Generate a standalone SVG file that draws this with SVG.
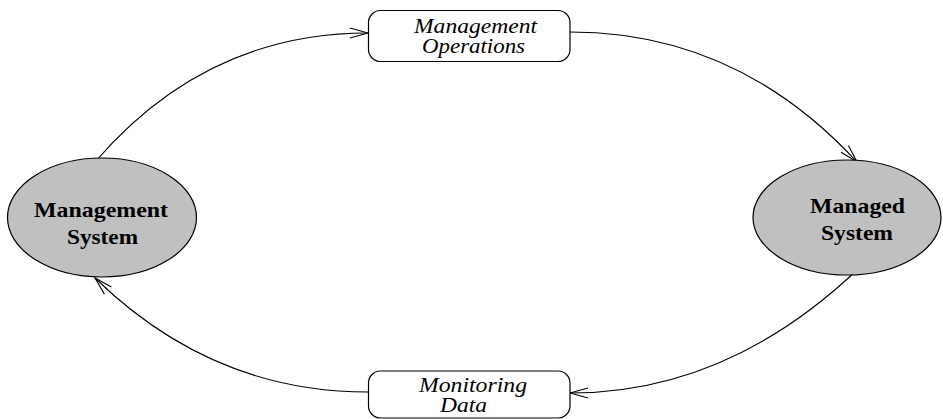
<svg xmlns="http://www.w3.org/2000/svg" width="943" height="419" viewBox="0 0 943 419">
  <style>
    .ell { fill: #c0c0c0; stroke: #000; stroke-width: 1.2; }
    .box { fill: #fff; stroke: #000; stroke-width: 1.2; }
    .bold { font-family: 'Liberation Serif', 'Times New Roman', serif; font-weight: bold; font-size: 22px; fill: #000; }
    .ital { font-family: 'Liberation Serif', 'Times New Roman', serif; font-style: italic; font-size: 20px; fill: #000; }
    .conn { fill: none; stroke: #000; stroke-width: 1.1; }
  </style>
  <defs>
    <marker id="arrow" markerUnits="userSpaceOnUse" markerWidth="20" markerHeight="12" refX="18" refY="5" orient="auto" viewBox="-1 -1 20 12">
      <path d="M0,0 L18,5 L0,10" fill="none" stroke="#000" stroke-width="1.1"/>
    </marker>
  </defs>
  <rect width="943" height="419" fill="#fff"/>

  <g id="connectors">
    <path class="conn" d="M95,162 Q206,33 368,33" marker-end="url(#arrow)"/>
    <path class="conn" d="M570,32 Q737,32 857,162" marker-end="url(#arrow)"/>
    <path class="conn" d="M857,270 Q727,393 570,393" marker-end="url(#arrow)"/>
    <path class="conn" d="M368,392 Q212,392 95,278" marker-end="url(#arrow)"/>
  </g>

  <g id="management-system">
    <ellipse class="ell" cx="102" cy="217.5" rx="94.5" ry="59.5"/>
    <text class="bold" x="34" y="217" textLength="134" lengthAdjust="spacingAndGlyphs">Management</text>
    <text class="bold" x="67" y="244" textLength="71" lengthAdjust="spacingAndGlyphs">System</text>
  </g>

  <g id="managed-system">
    <ellipse class="ell" cx="847" cy="217.5" rx="94" ry="57.5"/>
    <text class="bold" x="810" y="213" textLength="95" lengthAdjust="spacingAndGlyphs">Managed</text>
    <text class="bold" x="821" y="240" textLength="72" lengthAdjust="spacingAndGlyphs">System</text>
  </g>

  <g id="management-operations">
    <rect class="box" x="368.5" y="10.5" width="201.5" height="51" rx="12" ry="12"/>
    <text class="ital" x="414" y="33" textLength="123" lengthAdjust="spacingAndGlyphs">Management</text>
    <text class="ital" x="422" y="53" textLength="103" lengthAdjust="spacingAndGlyphs">Operations</text>
  </g>

  <g id="monitoring-data">
    <rect class="box" x="368.5" y="371" width="201.5" height="47" rx="12" ry="12"/>
    <text class="ital" x="419" y="392" textLength="108" lengthAdjust="spacingAndGlyphs">Monitoring</text>
    <text class="ital" x="440" y="412" textLength="47" lengthAdjust="spacingAndGlyphs">Data</text>
  </g>
</svg>
